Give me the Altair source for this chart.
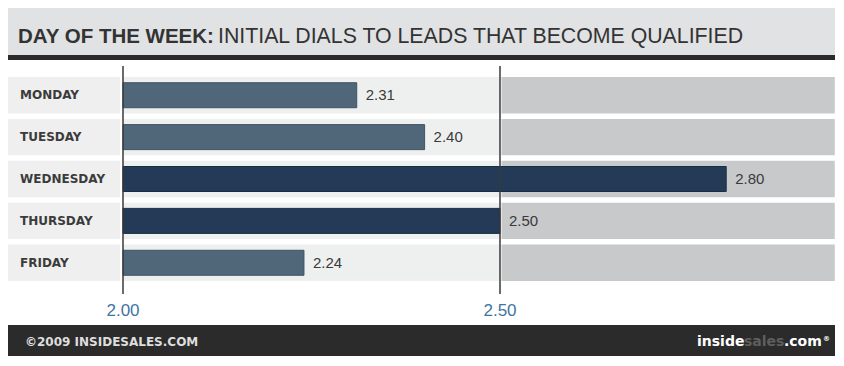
import altair as alt
import pandas as pd

# ---------------- data ----------------
days = ["MONDAY", "TUESDAY", "WEDNESDAY", "THURSDAY", "FRIDAY"]
dials = [2.31, 2.40, 2.80, 2.50, 2.24]
tick_values = [2.00, 2.50]
tick_labels = ["2.00", "2.50"]
title_bold = "DAY OF THE WEEK:"
title_rest = "INITIAL DIALS TO LEADS THAT BECOME QUALIFIED"
footer_left = "\u00a92009 INSIDESALES.COM"
logo_parts = ["inside", "sales", ".com", "\u00ae"]

# ---------------- layout / style ----------------
W, H = 828, 350
NARROW = "Liberation Sans, Arial, sans-serif"
WIDE = "DejaVu Sans, Verdana, sans-serif"
LIGHT_BAR, LIGHT_EDGE = "#506779", "#3e5365"
DARK_BAR, DARK_EDGE = "#233b57", "#1a2d44"
TEXT = "#3a3a3a"

xscale = alt.Scale(domain=[2.0, 2.5], range=[115, 492], zero=False, nice=False)
yscale = alt.Scale(domain=days, range=[69, 273], paddingInner=0.13, paddingOuter=0)

one = pd.DataFrame({"k": [0]})

# row backgrounds (label panel, below 2.50, above 2.50)
panels = [("label", 1.84, 1.996), ("low", 2.0, 2.5), ("high", 2.502, 2.944)]
rows_df = pd.DataFrame(
    [{"day": d, "panel": p, "x0": a, "x1": b} for d in days for p, a, b in panels]
)
rows = alt.Chart(rows_df).mark_rect().encode(
    x=alt.X("x0:Q", scale=xscale, axis=None),
    x2="x1:Q",
    y=alt.Y("day:N", scale=yscale, axis=None),
    color=alt.Color(
        "panel:N",
        scale=alt.Scale(domain=["label", "low", "high"],
                        range=["#eeefee", "#eef0ef", "#c8c9cb"]),
        legend=None,
    ),
)

bars_df = pd.DataFrame({"day": days, "value": dials})
is_high = alt.datum.value >= 2.5
bars = alt.Chart(bars_df).mark_bar(size=25, strokeWidth=1).encode(
    x=alt.X("value:Q", scale=xscale, axis=None),
    x2=alt.datum(2.0),
    y=alt.Y("day:N", scale=yscale, axis=None),
    color=alt.condition(is_high, alt.value(DARK_BAR), alt.value(LIGHT_BAR)),
    stroke=alt.condition(is_high, alt.value(DARK_EDGE), alt.value(LIGHT_EDGE)),
)

value_labels = alt.Chart(bars_df).mark_text(
    align="left", baseline="middle", dx=9, font=NARROW, fontSize=15, color=TEXT
).encode(
    x=alt.X("value:Q", scale=xscale, axis=None),
    y=alt.Y("day:N", scale=yscale, axis=None),
    text=alt.Text("value:Q", format=".2f"),
)

day_labels = alt.Chart(bars_df).mark_text(
    align="left", baseline="middle", font=WIDE, fontWeight="bold",
    fontSize=12, color="#3b3b3b"
).encode(
    x=alt.value(12),
    y=alt.Y("day:N", scale=yscale, axis=None),
    text="day:N",
)

ticks_df = pd.DataFrame({"v": tick_values, "label": tick_labels})
rules = alt.Chart(ticks_df).mark_rule(color="#3a3a3a", strokeWidth=1.5).encode(
    x=alt.X("v:Q", scale=xscale, axis=None),
    y=alt.value(58),
    y2=alt.value(286),
)
tick_text = alt.Chart(ticks_df).mark_text(
    align="center", baseline="middle", font=NARROW, fontSize=17, color="#3f74a3"
).encode(
    x=alt.X("v:Q", scale=xscale, axis=None),
    y=alt.value(303),
    text="label:N",
)

# title band
title_band = alt.Chart(one).mark_rect(color="#e0e2e3").encode(
    x=alt.value(0), x2=alt.value(827), y=alt.value(0), y2=alt.value(47)
)
title_rule = alt.Chart(one).mark_rect(color="#2b2b2b").encode(
    x=alt.value(0), x2=alt.value(827), y=alt.value(47), y2=alt.value(52)
)
title_a = alt.Chart(pd.DataFrame({"t": [title_bold]})).mark_text(
    align="left", baseline="alphabetic", font=NARROW, fontWeight="bold",
    fontSize=20.5, color="#333333"
).encode(x=alt.value(10), y=alt.value(35), text="t:N")
title_b = alt.Chart(pd.DataFrame({"t": [title_rest]})).mark_text(
    align="left", baseline="alphabetic", font=NARROW, fontWeight="normal",
    fontSize=21.3, color="#333333"
).encode(x=alt.value(210), y=alt.value(35), text="t:N")

# footer
footer_band = alt.Chart(one).mark_rect(color="#2b2b2b").encode(
    x=alt.value(0), x2=alt.value(827), y=alt.value(317), y2=alt.value(348)
)
footer_text = alt.Chart(pd.DataFrame({"t": [footer_left]})).mark_text(
    align="left", baseline="middle", font=WIDE, fontWeight="bold",
    fontSize=12, color="#dedede"
).encode(x=alt.value(17), y=alt.value(334), text="t:N")

logo_x = [689, 736, 776, 815]
logo_color = ["#ffffff", "#5e5e5e", "#ffffff", "#ffffff"]
logo_layers = []
for part, px, col in zip(logo_parts, logo_x, logo_color):
    small = part == "\u00ae"
    logo_layers.append(
        alt.Chart(pd.DataFrame({"t": [part]})).mark_text(
            align="left", baseline="middle", font=WIDE, fontWeight="bold",
            fontSize=7 if small else 14, color=col
        ).encode(x=alt.value(px), y=alt.value(331 if small else 334), text="t:N")
    )

chart = alt.layer(
    title_band, title_rule, title_a, title_b,
    rows, bars, rules, value_labels, day_labels, tick_text,
    footer_band, footer_text, *logo_layers,
).properties(
    width=W, height=H, autosize=alt.AutoSizeParams(type="none"), padding=0,
    background="white",
).configure_view(strokeWidth=0)

chart.save("out.html", embed_options={"renderer": "svg", "actions": False})
